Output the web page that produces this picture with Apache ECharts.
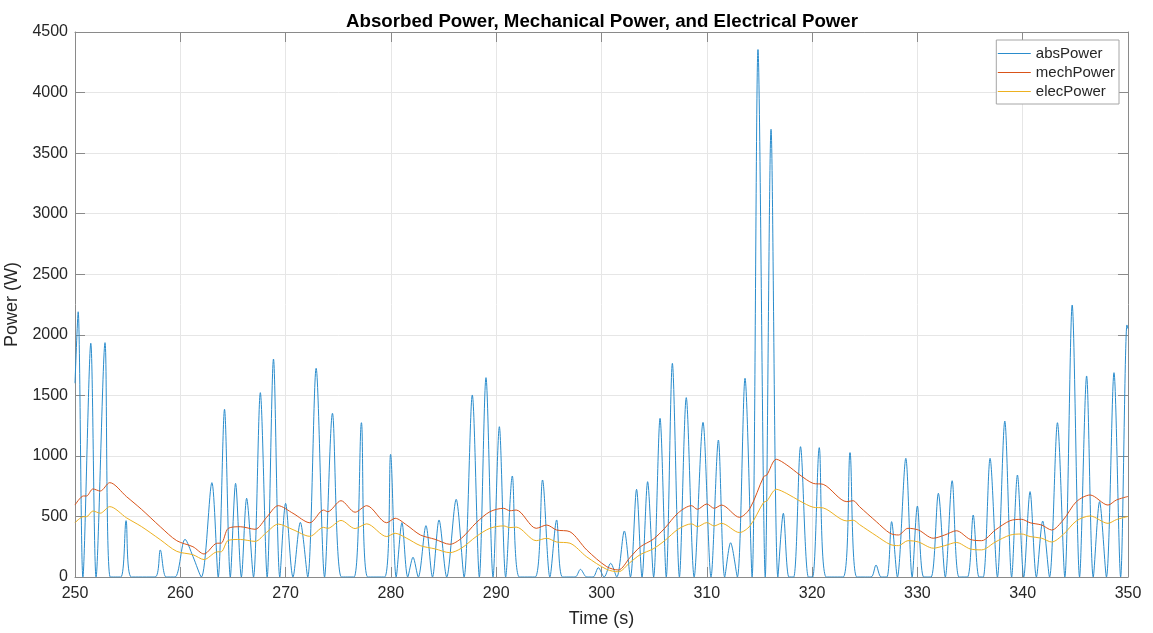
<!DOCTYPE html>
<html>
<head>
<meta charset="utf-8">
<title>Absorbed, Mechanical and Electrical Power</title>
<script src="https://cdn.jsdelivr.net/npm/echarts@6/dist/echarts.min.js"></script>
<style>
  html, body { margin: 0; padding: 0; background: #ffffff; }
  #chart { width: 1153px; height: 633px; }
</style>
</head>
<body>
<div id="chart"></div>
<script>
// Absorbed power samples: humps of the wave-driven absorption, clipped at zero
const absTime = [
  250.0, 250.3, 250.75, 251.5, 252.0, 252.85, 253.35, 254.35, 254.85, 255.35,
  257.6, 258.1, 258.65, 259.5, 260.45, 261.2, 262.0, 263.0, 263.6, 264.2,
  264.75, 265.25, 265.8, 266.3, 266.95, 267.6, 268.25, 268.85, 269.45, 270.0,
  270.7, 271.4, 272.1, 272.9, 273.7, 274.45, 275.3, 276.5, 277.2, 277.8,
  279.4, 279.97, 280.5, 281.05, 281.6, 282.1, 282.6, 283.33, 283.95, 284.57,
  285.3, 286.2, 286.95, 287.73, 288.4, 289.03, 289.7, 290.3, 290.9, 291.53,
  292.2, 293.7, 294.4, 295.1, 295.74, 296.3, 297.5, 298.0, 298.6, 299.2,
  299.7, 300.25, 300.87, 301.45, 302.17, 302.75, 303.33, 303.85, 304.38, 304.95,
  305.56, 306.15, 306.73, 307.4, 308.05, 308.8, 309.64, 310.4, 311.1, 311.7,
  312.26, 312.9, 313.63, 314.3, 314.86, 315.55, 316.1, 316.75, 317.27, 317.8,
  318.25, 318.9, 319.65, 320.05, 320.68, 321.35, 322.95, 323.6, 324.25, 325.6,
  326.07, 326.55, 327.1, 327.55, 328.1, 328.9, 329.5, 330.0, 330.6, 331.3,
  331.99, 332.65, 333.3, 333.95, 334.75, 335.3, 335.85, 336.25, 336.9, 337.6,
  338.3, 338.95, 339.5, 340.1, 340.7, 341.3, 341.9, 342.55, 343.3, 344.0,
  344.7, 345.4, 346.07, 346.7, 347.3, 347.95, 348.67, 349.3, 349.9, 350.0
];
const absPower = [
  1600, 2190, 0, 1930, 0, 1935, 0, 0, 465, 0,
  0, 223, 0, 0, 311, 170, 0, 779, 0, 1385,
  0, 773, 0, 650, 0, 1522, 0, 1800, 0, 608,
  0, 451, 0, 1723, 0, 1352, 0, 0, 1274, 0,
  0, 1013, 0, 449, 0, 163, 0, 424, 0, 471,
  0, 641, 0, 1503, 0, 1646, 0, 1241, 0, 834,
  0, 0, 801, 0, 471, 0, 0, 63, 0, 0,
  77, 0, 113, 0, 380, 0, 724, 0, 787, 0,
  1310, 0, 1764, 0, 1481, 0, 1277, 0, 1131, 0,
  283, 0, 1641, 0, 4355, 0, 3697, 0, 526, 0,
  0, 1076, 0, 0, 1068, 0, 0, 1027, 0, 0,
  99, 0, 0, 457, 0, 980, 0, 586, 0, 0,
  691, 0, 795, 0, 0, 512, 0, 0, 980, 0,
  1288, 0, 842, 0, 705, 0, 462, 0, 1274, 0,
  2246, 0, 1660, 0, 622, 0, 1687, 0, 2081, 2050
];

// Mechanical and electrical power share one time base
const avgTime = [
  250.0, 250.8, 251.1, 251.7, 252.4, 253.3, 254.9, 256.3, 258.1, 259.66,
  261.2, 262.25, 263.45, 263.9, 264.56, 265.7, 267.1, 268.2, 269.3, 270.7,
  272.3, 273.6, 274.0, 275.26, 276.6, 277.7, 279.6, 280.4, 281.5, 282.8,
  284.2, 285.6, 286.7, 288.1, 289.4, 290.7, 291.3, 291.9, 293.8, 294.8,
  295.74, 297.0, 298.6, 300.5, 301.6, 302.7, 303.7, 304.9, 306.0, 307.3,
  308.55, 309.1, 310.0, 310.7, 311.4, 313.1, 314.1, 315.4, 315.7, 316.6,
  317.6, 318.85, 320.1, 321.06, 323.3, 323.9, 324.5, 326.1, 327.4, 328.2,
  329.1, 330.1, 331.5, 332.6, 333.7, 335.0, 336.1, 337.4, 338.8, 339.9,
  340.7, 341.8, 342.75, 343.85, 345.1, 346.4, 348.1, 348.9, 350.0
];
const mechPower = [
  594, 669, 669, 727, 710, 779, 663, 560, 415, 300,
  250, 190, 278, 280, 402, 415, 394, 493, 589, 526,
  448, 553, 539, 630, 535, 589, 448, 485, 429, 347,
  311, 270, 320, 448, 539, 567, 547, 553, 402, 429,
  388, 374, 223, 85, 58, 160, 250, 311, 402, 531,
  589, 559, 603, 567, 594, 493, 567, 828, 842, 972,
  925, 842, 773, 765, 622, 630, 581, 457, 361, 347,
  402, 388, 320, 347, 382, 311, 300, 388, 465, 476,
  448, 429, 388, 471, 622, 677, 594, 636, 665
];
const elecPower = [
  448, 498, 498, 545, 527, 581, 488, 417, 308, 212,
  184, 144, 207, 209, 303, 310, 294, 369, 437, 391,
  336, 410, 402, 467, 400, 439, 334, 361, 320, 259,
  232, 201, 238, 334, 402, 422, 408, 412, 300, 320,
  289, 279, 166, 63, 43, 119, 186, 232, 300, 396,
  439, 416, 449, 422, 443, 367, 422, 617, 627, 724,
  689, 627, 576, 570, 463, 469, 433, 340, 269, 259,
  300, 289, 238, 259, 285, 232, 224, 289, 346, 355,
  334, 320, 289, 351, 463, 504, 443, 474, 500
];

const chartTitle = 'Absorbed Power, Mechanical Power, and Electrical Power';
const xLabel = 'Time (s)';
const yLabel = 'Power (W)';
const seriesNames = ['absPower', 'mechPower', 'elecPower'];
const seriesColors = ['#2a8ccc', '#D95319', '#EDB120'];

const FONT = '"Liberation Sans", Arial, Helvetica, sans-serif';
const AXIS_COLOR = '#8a8a8a';
const TEXT_COLOR = '#262626';
const GRID_COLOR = '#e6e6e6';

const pairs = (ts, vs) => ts.map((t, i) => [t, vs[i]]);

function axisPair(kind, min, max, interval, name, nameGap) {
  const main = {
    type: 'value', min: min, max: max, interval: interval,
    position: kind === 'x' ? 'bottom' : 'left',
    name: name, nameLocation: 'middle', nameGap: nameGap,
    nameTextStyle: { fontFamily: FONT, fontSize: 18, color: TEXT_COLOR },
    axisLine: { show: true, onZero: false, lineStyle: { color: AXIS_COLOR, width: 1 } },
    axisTick: { show: true, inside: true, length: 10, lineStyle: { color: AXIS_COLOR, width: 1 } },
    axisLabel: {
      fontFamily: FONT, fontSize: 16, color: TEXT_COLOR,
      margin: kind === 'x' ? 9 : 7,
      formatter: (v) => String(v)
    },
    splitLine: { show: true, lineStyle: { color: GRID_COLOR, width: 1 } }
  };
  const mirror = {
    type: 'value', min: min, max: max, interval: interval,
    position: kind === 'x' ? 'top' : 'right',
    axisLine: { show: true, onZero: false, lineStyle: { color: AXIS_COLOR, width: 1 } },
    axisTick: { show: true, inside: true, length: 10, lineStyle: { color: AXIS_COLOR, width: 1 } },
    axisLabel: { show: false },
    splitLine: { show: false }
  };
  return [main, mirror];
}

const chart = echarts.init(document.getElementById('chart'), null, { renderer: 'canvas' });

const lineSeries = (idx, data, width) => ({
  name: seriesNames[idx],
  type: 'line',
  xAxisIndex: 0,
  yAxisIndex: 0,
  data: data,
  showSymbol: false,
  symbol: 'none',
  smooth: 0.3,
  clip: true,
  lineStyle: { color: seriesColors[idx], width: width },
  itemStyle: { color: seriesColors[idx] },
  emphasis: { disabled: true }
});

chart.setOption({
  animation: false,
  backgroundColor: '#ffffff',
  title: {
    text: chartTitle,
    left: 597,
    top: 7,
    textAlign: 'center',
    textStyle: { fontFamily: FONT, fontSize: 18.7, fontWeight: 'bold', color: '#000000' }
  },
  grid: { left: 75, right: 25, top: 32, bottom: 56, containLabel: false, outerBoundsMode: 'none' },
  legend: {
    orient: 'vertical',
    right: 34,
    top: 40,
    itemWidth: 33,
    itemHeight: 10,
    itemGap: 4,
    padding: [6, 4, 5, 1],
    backgroundColor: '#ffffff',
    borderColor: '#a6a6a6',
    borderWidth: 1,
    // keep only the line in each key, hide the marker
    itemStyle: { opacity: 0 },
    lineStyle: { width: 1 },
    textStyle: { fontFamily: FONT, fontSize: 15, color: TEXT_COLOR },
    data: seriesNames
  },
  xAxis: axisPair('x', 250, 350, 10, xLabel, 33),
  yAxis: axisPair('y', 0, 4500, 500, yLabel, 41),
  series: [
    lineSeries(0, pairs(absTime, absPower), 1),
    lineSeries(1, pairs(avgTime, mechPower), 1),
    lineSeries(2, pairs(avgTime, elecPower), 1)
  ]
});
</script>
</body>
</html>
